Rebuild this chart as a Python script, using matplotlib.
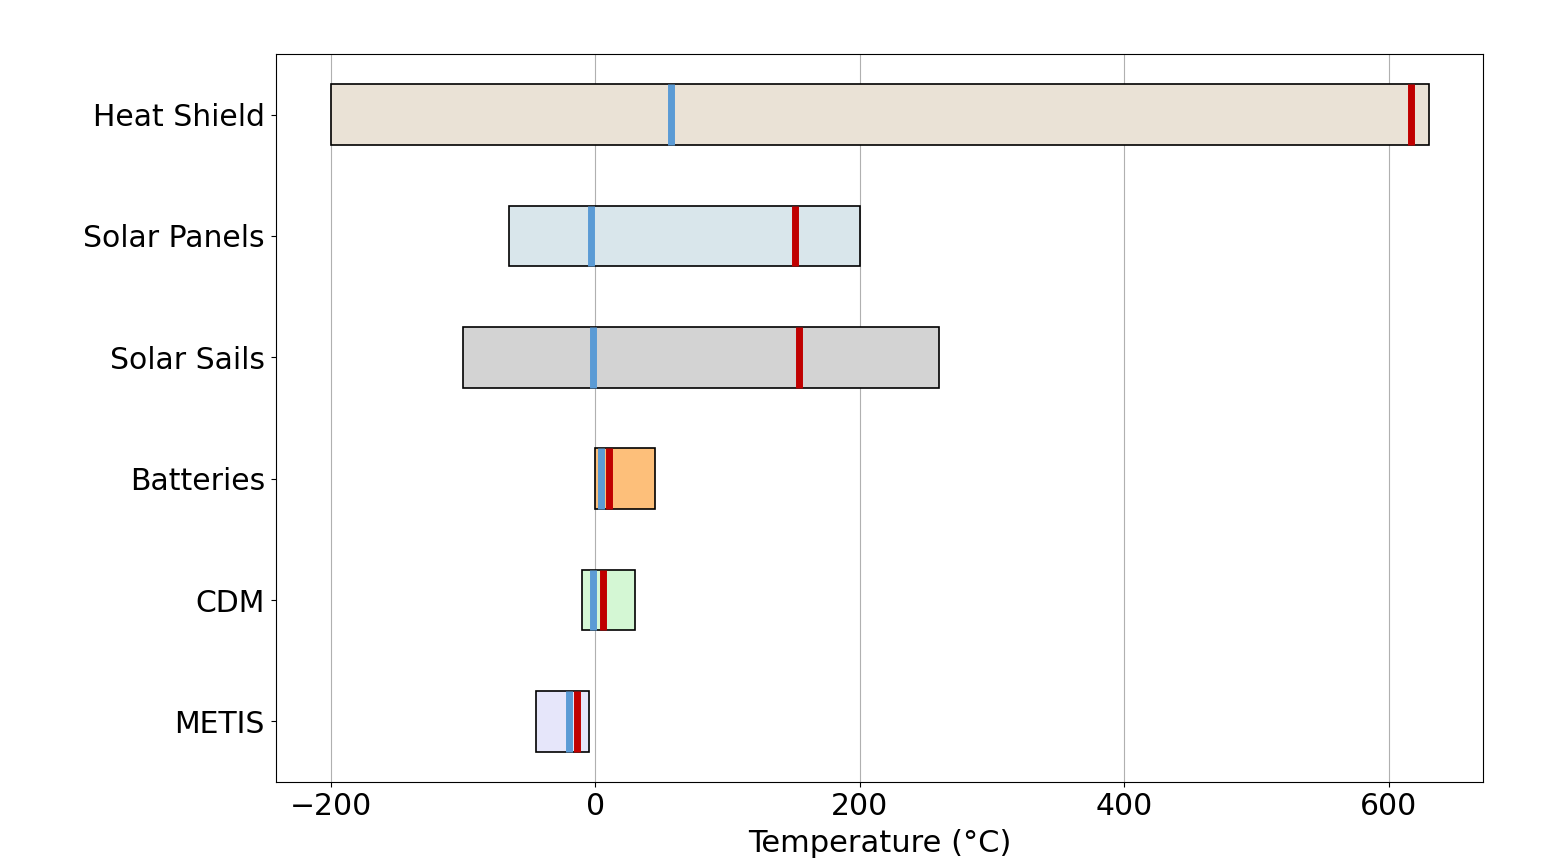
import matplotlib

matplotlib.use('agg')

import matplotlib.pyplot as plt
from matplotlib.ticker import MultipleLocator

components = ["METIS", "CDM", "Batteries", "Solar Sails", "Solar Panels", "Heat Shield"]
min_temp = [-45, -10, 0, -100, -65, -200]
max_temp = [-5, 30, 45, 260, 200, 630]
low_op = [-20, -1.5, 4.5, -1.5, -3, 57]
high_op = [-14, 6, 10, 154, 151, 617]
colors = ["#E6E6FA", "#D4F7D4", "#FDBF7A", "#D3D3D3", "#D9E6EB", "#EAE2D6"]

fig, ax = plt.subplots(figsize=(15.42, 8.68), dpi=100)
fig.subplots_adjust(left=0.179, right=0.962, top=0.938, bottom=0.099)

h = 0.5
for i, name in enumerate(components):
    ax.barh(i, max_temp[i] - min_temp[i], left=min_temp[i], height=h,
            color=colors[i], edgecolor='black', linewidth=1.2, zorder=2)
    ax.plot([low_op[i], low_op[i]], [i - h / 2, i + h / 2], color='#5B9BD5', lw=5, zorder=3,
            solid_capstyle='butt')
    ax.plot([high_op[i], high_op[i]], [i - h / 2, i + h / 2], color='#C00000', lw=5, zorder=3,
            solid_capstyle='butt')

ax.use_sticky_edges = False
ax.autoscale_view()
ax.set_ylim(-0.5, len(components) - 0.5)
ax.xaxis.set_major_locator(MultipleLocator(200))
ax.set_yticks(range(len(components)))
ax.set_yticklabels(components)
ax.tick_params(labelsize=21.5)
ax.tick_params(axis='y', pad=4.5)
ax.set_xlabel("Temperature (°C)", fontsize=22, labelpad=6)
ax.grid(axis='x', zorder=0)
ax.set_axisbelow(True)

fig.savefig("out.png")
